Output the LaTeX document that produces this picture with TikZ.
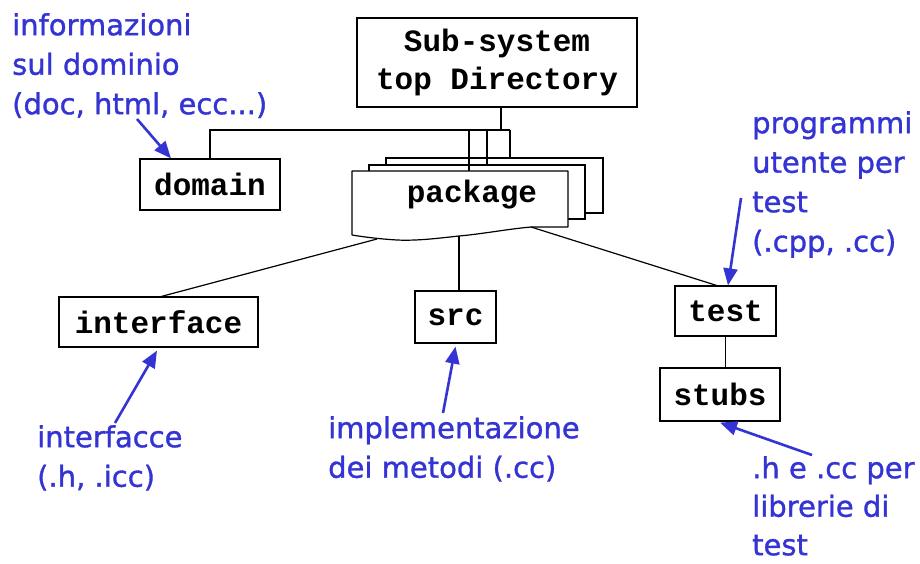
\documentclass[tikz,border=0pt]{standalone}
\usepackage{fontspec}
\setmainfont{DejaVu Sans}
\newfontfamily\dirfont{Liberation Mono}
\newfontfamily\notefont[FakeBold=1.1]{DejaVu Sans}
\usetikzlibrary{arrows.meta}
\definecolor{noteblue}{RGB}{52,52,212}

\begin{document}
\begin{tikzpicture}[x=1pt,y=-1pt,
  dirbox/.style={draw, line width=1.2pt, fill=white, inner sep=0pt, align=center,
    font=\dirfont\bfseries\fontsize{31}{38}\selectfont},
  dirlabel/.style={inner sep=0pt, font=\dirfont\bfseries\fontsize{31}{38}\selectfont},
  layer/.style={draw, line width=1.2pt, fill=white},
  link/.style={line width=1.2pt},
  note/.style={anchor=north west, inner sep=0pt, align=left, text=noteblue,
    font=\notefont\fontsize{29}{39.5}\selectfont},
  notearrow/.style={draw=noteblue, line width=2.6pt, -{Triangle[length=17pt,width=14pt]}}]

% canvas
\fill[white] (0,0) rectangle (920,563);
\useasboundingbox (0,0) rectangle (920,563);

% directory boxes
\node[dirbox, minimum width=280pt, minimum height=89pt] (top) at (497,62.5) {Sub-system\\top Directory};
\node[dirbox, minimum width=140pt, minimum height=51pt] (domain) at (210,184.5) {domain};
\node[dirbox, minimum width=199pt, minimum height=50pt] (interface) at (158.5,322) {interface};
\node[dirbox, minimum width=81pt, minimum height=52pt] (src) at (455.5,317) {src};
\node[dirbox, minimum width=101pt, minimum height=50pt] (test) at (725.5,311) {test};
\node[dirbox, minimum width=120pt, minimum height=53pt] (stubs) at (720,394.5) {stubs};

% stacked package folders, back to front
\draw[layer] (386,158) rectangle (603,213);
\draw[layer] (369,165) rectangle (585,219);
\draw[layer, line join=round] (352,235) -- (352,171) -- (568,171) -- (568,227) -- (531,227)
  .. controls (508,229) and (482,234) .. (459,236)
  .. controls (440,238) and (418,241) .. (397,240)
  .. controls (380,239) and (364,237) .. (352,235) -- cycle;
\node[dirlabel] (pkg) at (472,195) {package};

% attachment points on the folders
\coordinate (frontTop) at (469,171);
\coordinate (midTop) at (487,165);
\coordinate (backTop) at (510,158);
\coordinate (waveL) at (377,239);
\coordinate (waveM) at (459,236);
\coordinate (waveR) at (531,227);

% bus below the top directory
\coordinate (hub) at (501,130);
\draw[link] (top.south -| hub) -- (hub);
\draw[link] (domain.north) -- (domain.north |- hub) -- (backTop |- hub);
\draw[link] (frontTop |- hub) -- (frontTop);
\draw[link] (midTop |- hub) -- (midTop);
\draw[link] (backTop |- hub) -- (backTop);

% package contents
\draw[link] (waveL) -- ([xshift=3pt]interface.north);
\draw[link] (waveM) -- (waveM |- src.north);
\draw[link] (waveR) -- ([xshift=-9pt]test.north);
\draw[link] (test.south) -- (test.south |- stubs.north);

% notes
\node[note] (infoDom) at (12,13) {informazioni\\sul dominio\\(doc, html, ecc...)};
\node[note] (infoTest) at (752,111) {programmi\\utente per\\test\\(.cpp, .cc)};
\node[note] (infoIf) at (37,425) {interfacce\\(.h, .icc)};
\node[note] (infoSrc) at (328,416) {implementazione\\dei metodi (.cc)};
\node[note, font=\notefont\fontsize{29}{38.5}\selectfont] (infoStubs) at (752,456) {.h e .cc per\\librerie di\\test};

% note arrows
\coordinate (tailDom) at (137,119);
\coordinate (tailTest) at (741,198);
\coordinate (tailIf) at (115,423);
\coordinate (tailSrc) at (443,413);
\coordinate (tailStubs) at (812,455);
\draw[notearrow] (tailDom) -- ([xshift=-39pt]domain.north);
\draw[notearrow] (tailTest) -- ([xshift=2.5pt]test.north);
\draw[notearrow] (tailIf) -- ([xshift=-1.5pt,yshift=-3pt]interface.south);
\draw[notearrow] (tailSrc) -- ([yshift=-3pt]src.south);
\draw[notearrow] (tailStubs) -- ([yshift=-1pt]stubs.south);
\end{tikzpicture}
\end{document}
